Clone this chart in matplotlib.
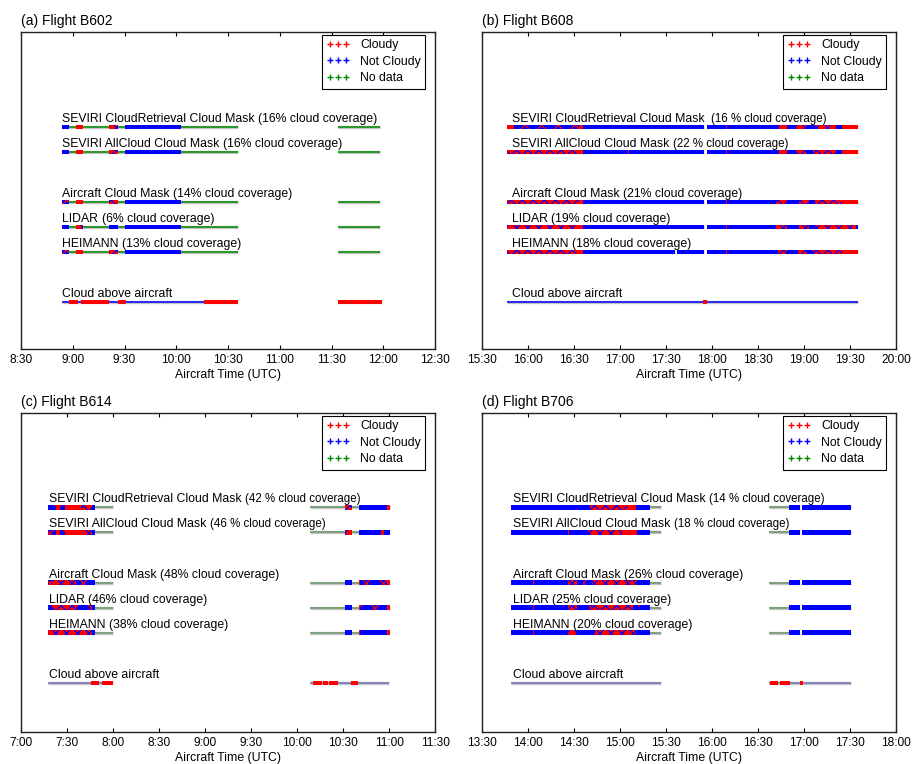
import matplotlib
matplotlib.use("Agg")
import matplotlib.pyplot as plt
from matplotlib.lines import Line2D

plt.rcParams['font.family'] = ['Liberation Sans', 'DejaVu Sans']
plt.rcParams['hatch.linewidth'] = 0.9

# ---------------------------------------------------------------------------
# Cloud flags along each flight track.
# Each entry: (start UTC, end UTC, flag)
#   C  = cloudy, N = not cloudy, X = no data,
#   CN = mostly cloudy with clear samples, NC = mostly clear with cloudy samples
# ---------------------------------------------------------------------------
ROW_NAMES = ["SEVIRI CloudRetrieval Cloud Mask", "SEVIRI AllCloud Cloud Mask",
             "Aircraft Cloud Mask", "LIDAR", "HEIMANN", "Cloud above aircraft"]
ROW_Y = [9, 8, 6, 5, 4, 2]

FLIGHTS = ["B602", "B608", "B614", "B706"]
COVER_B602 = [16, 16, 14, 6, 13]
COVER_B608 = [16, 22, 21, 19, 18]
COVER_B614 = [42, 46, 48, 46, 38]
COVER_B706 = [14, 18, 26, 25, 20]

# ---- Flight B602 ----
B602_CR = [("08:54", "08:58", "N"), ("08:58", "09:02", "X"), ("09:02", "09:06", "C"),
           ("09:06", "09:21", "X"), ("09:21", "09:26", "CN"), ("09:26", "09:30", "X"),
           ("09:30", "10:03", "N"), ("10:03", "10:36", "X"), ("11:34", "11:58", "X")]
B602_ALL = [("08:54", "08:58", "N"), ("08:58", "09:02", "X"), ("09:02", "09:06", "C"),
            ("09:06", "09:21", "X"), ("09:21", "09:26", "CN"), ("09:26", "09:30", "X"),
            ("09:30", "10:03", "N"), ("10:03", "10:36", "X"), ("11:34", "11:58", "X")]
B602_AIR = [("08:54", "08:58", "NC"), ("08:58", "09:02", "X"), ("09:02", "09:06", "C"),
            ("09:06", "09:21", "X"), ("09:21", "09:26", "CN"), ("09:26", "09:30", "X"),
            ("09:30", "10:03", "N"), ("10:03", "10:36", "X"), ("11:34", "11:58", "X")]
B602_LIDAR = [("08:54", "08:58", "NC"), ("08:58", "09:02", "X"), ("09:02", "09:06", "CN"),
              ("09:06", "09:21", "X"), ("09:21", "09:26", "N"), ("09:26", "09:30", "X"),
              ("09:30", "10:03", "N"), ("10:03", "10:36", "X"), ("11:34", "11:58", "X")]
B602_HEIMANN = [("08:54", "08:58", "NC"), ("08:58", "09:02", "X"), ("09:02", "09:06", "C"),
                ("09:06", "09:21", "X"), ("09:21", "09:26", "CN"), ("09:26", "09:30", "X"),
                ("09:30", "10:03", "N"), ("10:03", "10:36", "X"), ("11:34", "11:58", "X")]
B602_ABOVE = [("08:54", "08:58", "N"), ("08:58", "09:03", "C"), ("09:03", "09:05", "N"),
              ("09:05", "09:21", "C"), ("09:21", "09:26", "N"), ("09:26", "09:31", "C"),
              ("09:31", "10:16", "N"), ("10:16", "10:36", "C"), ("11:34", "11:59", "C")]

# ---- Flight B608 ----
B608_CR = [("15:46:30", "15:51", "C"), ("15:51", "16:33", "NC"), ("16:33", "16:36", "C"),
           ("16:36", "17:55", "N"), ("17:56:30", "18:09", "N"), ("18:09", "18:10", "C"),
           ("18:10", "18:44", "N"), ("18:44", "18:49", "C"), ("18:49", "18:55", "N"),
           ("18:55", "19:02", "CN"), ("19:02", "19:07", "N"), ("19:07", "19:21", "CN"),
           ("19:21", "19:25", "N"), ("19:25", "19:35:30", "C")]
B608_ALL = [("15:46:30", "16:33", "CN"), ("16:33", "16:36", "C"), ("16:36", "17:05", "N"),
            ("17:05", "17:05:40", "C"), ("17:05:40", "17:55", "N"), ("17:56:30", "18:09", "N"),
            ("18:09", "18:10", "C"), ("18:10", "18:44", "N"), ("18:44", "18:49", "C"),
            ("18:49", "18:55", "N"), ("18:55", "19:01", "CN"), ("19:01", "19:06", "N"),
            ("19:06", "19:21", "CN"), ("19:21", "19:25", "N"), ("19:25", "19:35:30", "C")]
B608_AIR = [("15:46:30", "16:33", "CN"), ("16:33", "16:36", "C"), ("16:36", "17:55", "N"),
            ("17:56:30", "18:09", "N"), ("18:09", "18:10", "C"), ("18:10", "18:42", "N"),
            ("18:42", "18:49", "CN"), ("18:49", "18:57", "N"), ("18:57", "19:03", "CN"),
            ("19:03", "19:07", "N"), ("19:07", "19:25", "CN"), ("19:25", "19:35:30", "C")]
B608_LIDAR = [("15:46:30", "16:33", "CN"), ("16:33", "16:36", "C"), ("16:36", "17:55", "N"),
              ("17:56:30", "18:09", "N"), ("18:09", "18:10", "C"), ("18:10", "18:42", "N"),
              ("18:42", "18:49", "CN"), ("18:49", "18:57", "N"), ("18:57", "19:03", "CN"),
              ("19:03", "19:07", "N"), ("19:07", "19:34", "CN"), ("19:34", "19:35:30", "N")]
B608_HEIMANN = [("15:46:30", "16:33", "CN"), ("16:33", "16:36", "C"), ("16:36", "17:36", "N"),
                ("17:37", "17:55", "N"), ("17:56:30", "18:09", "N"), ("18:09", "18:10", "C"),
                ("18:10", "18:43", "N"), ("18:43", "18:49", "CN"), ("18:49", "18:56", "N"),
                ("18:56", "19:02", "CN"), ("19:02", "19:06", "N"), ("19:06", "19:25", "CN"),
                ("19:25", "19:35:30", "C")]
B608_ABOVE = [("15:46:30", "17:54", "N"), ("17:54", "17:57", "C"), ("17:57", "19:35:30", "N")]

# ---- Flight B614 ----
B614_CR = [("07:17:30", "07:22:30", "NC"), ("07:22:30", "07:25:45", "C"),
           ("07:25:45", "07:29", "NC"), ("07:29", "07:39", "C"), ("07:39", "07:46:30", "CN"),
           ("07:46:30", "07:48:30", "N"), ("07:48:30", "08:00", "X"),
           ("10:08:15", "10:31:30", "X"), ("10:31:30", "10:36", "CN"), ("10:36", "10:40:15", "X"),
           ("10:40:15", "10:58:45", "N"), ("10:58:45", "11:00:30", "C")]
B614_ALL = [("07:17:30", "07:22:30", "NC"), ("07:22:30", "07:25:45", "C"),
            ("07:25:45", "07:29", "NC"), ("07:29", "07:39", "C"), ("07:39", "07:46:30", "CN"),
            ("07:46:30", "07:48:30", "N"), ("07:48:30", "08:00", "X"),
            ("10:08:15", "10:31:30", "X"), ("10:31:30", "10:36", "CN"), ("10:36", "10:40:15", "X"),
            ("10:40:15", "10:54:30", "N"), ("10:54:30", "10:56:30", "CN"),
            ("10:56:30", "11:00:30", "N")]
B614_AIR = [("07:17:30", "07:20:15", "NC"), ("07:20:15", "07:36", "CN"),
            ("07:36", "07:46:30", "NC"), ("07:46:30", "07:48:30", "N"), ("07:48:30", "08:00", "X"),
            ("10:08:15", "10:31:30", "X"), ("10:31:30", "10:36", "N"), ("10:36", "10:40:15", "X"),
            ("10:40:15", "10:41", "C"), ("10:41", "10:58:45", "NC"), ("10:58:45", "11:00:30", "C")]
B614_LIDAR = [("07:17:30", "07:20:15", "NC"), ("07:20:15", "07:36", "CN"),
              ("07:36", "07:46:30", "NC"), ("07:46:30", "07:48:30", "N"), ("07:48:30", "08:00", "X"),
              ("10:08:15", "10:31:30", "X"), ("10:31:30", "10:36", "N"), ("10:36", "10:40:15", "X"),
              ("10:40:15", "10:41", "C"), ("10:41", "10:58:45", "NC"), ("10:58:45", "11:00:30", "C")]
B614_HEIMANN = [("07:17:30", "07:46:30", "CN"), ("07:46:30", "07:48:30", "N"),
                ("07:48:30", "08:00", "X"), ("10:08:15", "10:31:30", "X"), ("10:31:30", "10:36", "N"),
                ("10:36", "10:40:15", "X"), ("10:40:15", "10:41", "C"), ("10:41", "10:59", "N"),
                ("10:59", "11:00:30", "C")]
B614_ABOVE = [("07:17:30", "07:45:45", "N"), ("07:45:45", "07:50:45", "C"), ("07:50:45", "07:53", "N"),
              ("07:53", "08:00", "C"), ("10:08:15", "10:10:45", "N"), ("10:10:45", "10:13:30", "C"),
              ("10:13:30", "10:14", "N"), ("10:14", "10:16:30", "C"), ("10:16:30", "10:17:15", "N"),
              ("10:17:15", "10:20", "C"), ("10:20", "10:21", "N"), ("10:21", "10:27", "C"),
              ("10:27", "10:35:30", "N"), ("10:35:30", "10:40", "C"), ("10:40", "10:59:45", "N")]

# ---- Flight B706 ----
B706_CR = [("13:49", "14:40:30", "N"), ("14:40:30", "15:04:30", "CN"), ("15:04:30", "15:10:30", "C"),
           ("15:10:30", "15:19:30", "N"), ("15:19:30", "15:27", "X"), ("16:37:30", "16:50:30", "X"),
           ("16:50:30", "16:57:30", "N"), ("16:59", "17:30:30", "N")]
B706_ALL = [("13:49", "14:26", "N"), ("14:26", "14:26:40", "C"), ("14:26:40", "14:39", "N"),
            ("14:39", "15:01", "CN"), ("15:01", "15:11", "C"), ("15:11", "15:19:30", "N"),
            ("15:19:30", "15:27", "X"), ("16:37:30", "16:50:30", "X"),
            ("16:50:30", "16:57:30", "N"), ("16:59", "17:30:30", "N")]
B706_AIR = [("13:49", "14:03", "N"), ("14:03", "14:03:40", "C"), ("14:03:40", "14:26", "N"),
            ("14:26", "14:32", "CN"), ("14:32", "14:36", "N"), ("14:36", "14:42", "NC"),
            ("14:42", "15:08:30", "CN"), ("15:08:30", "15:13", "NC"), ("15:13", "15:19:30", "N"),
            ("15:19:30", "15:27", "X"), ("16:37:30", "16:50:30", "X"),
            ("16:50:30", "16:57:30", "N"), ("16:59", "17:30:30", "N")]
B706_LIDAR = [("13:49", "14:03", "N"), ("14:03", "14:03:40", "C"), ("14:03:40", "14:26", "N"),
              ("14:26", "14:32", "CN"), ("14:32", "14:36", "N"), ("14:36", "14:42", "NC"),
              ("14:42", "15:08:30", "CN"), ("15:08:30", "15:13", "NC"), ("15:13", "15:19:30", "N"),
              ("15:19:30", "15:27", "X"), ("16:37:30", "16:50:30", "X"),
              ("16:50:30", "16:57:30", "N"), ("16:59", "17:30:30", "N")]
B706_HEIMANN = [("13:49", "14:03", "N"), ("14:03", "14:03:40", "C"), ("14:03:40", "14:26", "N"),
                ("14:26", "14:32", "CN"), ("14:32", "14:40", "N"), ("14:40", "14:44", "NC"),
                ("14:44", "15:10:30", "CN"), ("15:10:30", "15:19:30", "N"),
                ("15:19:30", "15:27", "X"), ("16:37:30", "16:50:30", "X"),
                ("16:50:30", "16:57:30", "N"), ("16:59", "17:30:30", "N")]
B706_ABOVE = [("13:49", "15:27", "N"), ("16:37:30", "16:38", "N"), ("16:38", "16:43:20", "C"),
              ("16:43:20", "16:44:20", "N"), ("16:44:20", "16:51", "C"), ("16:51", "16:57:20", "N"),
              ("16:57:20", "16:59:30", "C"), ("16:59:30", "17:30:30", "N")]

AXIS_START = ["08:30", "15:30", "07:00", "13:30"]
AXIS_END = ["12:30", "20:00", "11:30", "18:00"]

RED, BLUE, GREEN = "#ff0000", "#0000ff", "#008a00"
GRAY = "#c4c4c4"
LABEL_SIZE = 8.8
TAIL_SIZE = 8.3


def hours(s):
    parts = [float(p) for p in s.split(":")]
    while len(parts) < 3:
        parts.append(0.0)
    return parts[0] + parts[1] / 60.0 + parts[2] / 3600.0


def fmt_tick(h):
    hh = int(h)
    mm = int(round((h - hh) * 60))
    return f"{hh}:{mm:02d}"


def draw_row(ax, y, segs, above, thin_green, thin_blue):
    bar_h = 0.17
    for t0, t1, flag in segs:
        a, b = hours(t0), hours(t1)
        ax.plot([a, b], [y, y], color=GRAY, lw=2.4, solid_capstyle="butt", zorder=1)
        if flag == "X":
            ax.plot([a, b], [y, y], color=thin_green, lw=1.1, solid_capstyle="butt", zorder=2)
        elif above and flag == "N":
            ax.plot([a, b], [y, y], color=thin_blue, lw=1.1, solid_capstyle="butt", zorder=2)
        else:
            face = RED if flag in ("C", "CN") else BLUE
            kw = dict(facecolors=face, linewidth=0, zorder=3)
            if flag == "CN":
                kw.update(edgecolor=BLUE, hatch="xxx")
            elif flag == "NC":
                kw.update(edgecolor=RED, hatch="xx")
            else:
                kw.update(edgecolor=face)
            ax.broken_barh([(a, b - a)], (y - bar_h / 2, bar_h), **kw)


def row_labels(cover, spaced_sat, cr_gap=2.4):
    """(name, tail, tail size, gap in points) for every row."""
    out = []
    for i, name in enumerate(ROW_NAMES[:5]):
        if i < 2 and spaced_sat:
            gap = cr_gap if i == 0 else 2.4
            out.append((name, f"({cover[i]} % cloud coverage)", TAIL_SIZE, gap))
        else:
            out.append((name, f"({cover[i]}% cloud coverage)", LABEL_SIZE, 2.4))
    out.append((ROW_NAMES[5], "", LABEL_SIZE, 0))
    return out


panels = [
    ("(a)", FLIGHTS[0], [B602_CR, B602_ALL, B602_AIR, B602_LIDAR, B602_HEIMANN, B602_ABOVE],
     row_labels(COVER_B602, False), GREEN, BLUE),
    ("(b)", FLIGHTS[1], [B608_CR, B608_ALL, B608_AIR, B608_LIDAR, B608_HEIMANN, B608_ABOVE],
     row_labels(COVER_B608, True, cr_gap=4.8), GREEN, BLUE),
    ("(c)", FLIGHTS[2], [B614_CR, B614_ALL, B614_AIR, B614_LIDAR, B614_HEIMANN, B614_ABOVE],
     row_labels(COVER_B614, True), "#6c966c", "#7272b8"),
    ("(d)", FLIGHTS[3], [B706_CR, B706_ALL, B706_AIR, B706_LIDAR, B706_HEIMANN, B706_ABOVE],
     row_labels(COVER_B706, True), "#6c966c", "#7272b8"),
]

W, H = 914, 764
fig = plt.figure(figsize=(W / 100, H / 100), dpi=100)
rects = [
    (21, 32, 414, 317),
    (482, 32, 414, 317),
    (21, 413, 414, 319),
    (482, 413, 414, 319),
]
ylims = [(0.12, 12.8), (0.12, 12.8), (0.03, 12.77), (0.03, 12.77)]
label_shift = [0.0, 3.5, 0.7, 1.2]

for k, (tag, flight, rows, labels, g_col, b_col) in enumerate(panels):
    x0, y0, w, h = rects[k]
    ax = fig.add_axes([x0 / W, 1 - (y0 + h) / H, w / W, h / H])
    for y, segs, (name, tail, tail_size, gap), i in zip(ROW_Y, rows, labels, range(6)):
        draw_row(ax, y, segs, i == 5, g_col, b_col)
        head = ax.annotate(name, (hours(segs[0][0]), y), xytext=(label_shift[k], 3.6),
                           textcoords="offset points", va="baseline", ha="left",
                           fontsize=LABEL_SIZE, color="black", zorder=4)
        if tail:
            ax.annotate(tail, xy=(1, 0), xycoords=head, xytext=(gap, 0),
                        textcoords="offset points", va="bottom", ha="left",
                        fontsize=tail_size, color="black", zorder=4)

    xs, xe = hours(AXIS_START[k]), hours(AXIS_END[k])
    ax.set_xlim(xs, xe)
    ax.set_ylim(*ylims[k])
    ticks = []
    t = xs
    while t <= xe + 1e-9:
        ticks.append(t)
        t += 0.5
    ax.set_xticks(ticks)
    ax.set_xticklabels([fmt_tick(v) for v in ticks])
    ax.set_yticks([])
    ax.tick_params(axis="x", direction="in", top=True, length=3, width=0.8,
                   labelsize=8.6, pad=3.8, colors="black")
    for sp in ax.spines.values():
        sp.set_linewidth(1.0)
        sp.set_color("#222222")
    ax.set_xlabel("Aircraft Time (UTC)", fontsize=8.8, labelpad=2.2)
    ax.set_title(f"{tag} Flight {flight}", loc="left", fontsize=10, pad=5, x=0.0)

    handles = [Line2D([], [], ls="none", marker="+", color=c, markersize=5, markeredgewidth=1.0)
               for c in (RED, BLUE, GREEN)]
    leg = ax.legend(handles, ["Cloudy", "Not Cloudy", "No data"], numpoints=3,
                    loc="upper right", bbox_to_anchor=(0.977, 0.992), fontsize=8.8,
                    frameon=True, fancybox=False, framealpha=1, edgecolor="black",
                    handlelength=1.9, handletextpad=0.85, labelspacing=0.36,
                    borderpad=0.38, borderaxespad=0)
    leg.get_frame().set_linewidth(0.8)

fig.savefig("out.png", dpi=100)
